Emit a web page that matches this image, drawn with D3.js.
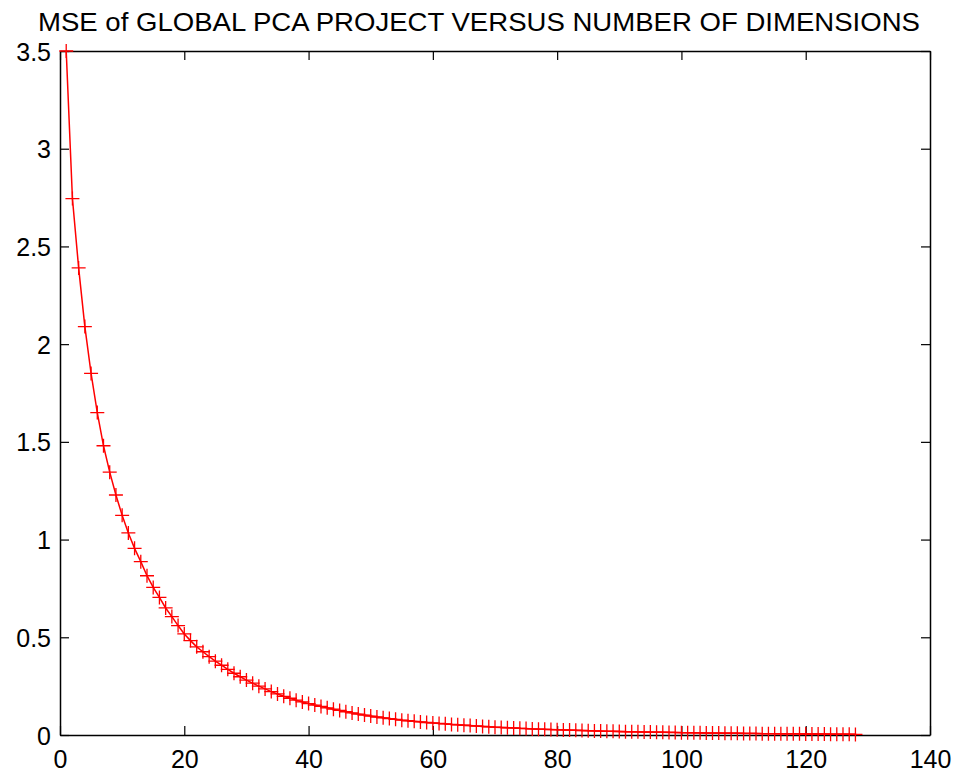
<!DOCTYPE html>
<html>
<head>
<meta charset="utf-8">
<script src="https://cdn.jsdelivr.net/npm/d3@7"></script>
<style>
  body { margin: 0; background: #fff; }
  text { font-family: 'Liberation Sans', Arial, sans-serif; fill: #000; }
</style>
</head>
<body>
<svg id="chart"></svg>
<script>
// values
const dims = d3.range(1, 129)
const mse = [
  3.50, 2.745, 2.39, 2.09, 1.85, 1.65, 1.48, 1.345, 1.228, 1.124,
  1.034, 0.955, 0.887, 0.815, 0.755, 0.704, 0.650, 0.606, 0.560, 0.517,
  0.483, 0.451, 0.426, 0.401, 0.378, 0.357, 0.336, 0.316, 0.298, 0.281,
  0.265, 0.250, 0.236, 0.222, 0.210, 0.198, 0.188, 0.178, 0.169, 0.161,
  0.153, 0.146, 0.139, 0.132, 0.126, 0.119, 0.113, 0.107, 0.102, 0.097,
  0.092, 0.088, 0.084, 0.080, 0.076, 0.073, 0.070, 0.067, 0.064, 0.062,
  0.059, 0.057, 0.054, 0.052, 0.050, 0.048, 0.046, 0.044, 0.042, 0.040,
  0.039, 0.037, 0.036, 0.034, 0.033, 0.031, 0.030, 0.029, 0.028, 0.027,
  0.026, 0.025, 0.024, 0.023, 0.022, 0.021, 0.020, 0.019, 0.019, 0.018,
  0.017, 0.016, 0.016, 0.015, 0.015, 0.014, 0.014, 0.013, 0.013, 0.012,
  0.012, 0.011, 0.011, 0.010, 0.010, 0.010, 0.009, 0.009, 0.009, 0.008,
  0.008, 0.008, 0.007, 0.007, 0.007, 0.006, 0.006, 0.006, 0.006, 0.005,
  0.005, 0.005, 0.005, 0.004, 0.004, 0.004, 0.004, 0.003
]
const xTicks = [0, 20, 40, 60, 80, 100, 120, 140]
const yTicks = [0, 0.5, 1, 1.5, 2, 2.5, 3, 3.5]
const title = 'MSE of GLOBAL PCA PROJECT VERSUS NUMBER OF DIMENSIONS'

const W = 956
const H = 782
const margin = { top: 51, left: 60, right: 26, bottom: 47 }
const width = W - margin.left - margin.right
const height = H - margin.top - margin.bottom

const svg = d3.select('#chart').attr('width', W).attr('height', H)
const g = svg.append('g')
  .attr('transform', 'translate(' + margin.left + ',' + margin.top + ')')

const xScale = d3.scaleLinear().domain([0, 140]).range([0, width])
const yScale = d3.scaleLinear().domain([0, 3.5]).range([height, 0])

const data = dims.map((d, i) => ({ x: d, y: mse[i] }))

/// axes (matlab style, ticks inside, box all round) ////
const tickLen = 9
const axisFont = '25px'

const xAxis = g.append('g')
  .attr('transform', 'translate(0,' + height + ')')
  .call(d3.axisBottom(xScale).tickValues(xTicks).tickSizeInner(-tickLen).tickSizeOuter(0).tickPadding(15))
const xTop = g.append('g')
  .call(d3.axisTop(xScale).tickValues(xTicks).tickSizeInner(-tickLen).tickSizeOuter(0).tickFormat(''))
const yAxis = g.append('g')
  .call(d3.axisLeft(yScale).tickValues(yTicks).tickSizeInner(-tickLen).tickSizeOuter(0).tickPadding(9).tickFormat(d3.format('')))
const yRight = g.append('g')
  .attr('transform', 'translate(' + width + ',0)')
  .call(d3.axisRight(yScale).tickValues(yTicks).tickSizeInner(-tickLen).tickSizeOuter(0).tickFormat(''))

;[xAxis, xTop, yAxis, yRight].forEach(a => {
  a.selectAll('.domain').attr('stroke', '#000').attr('stroke-width', 1.5)
  a.selectAll('.tick line').attr('stroke', '#000').attr('stroke-width', 1.2)
  a.selectAll('.tick text')
    .attr('font-size', axisFont)
    .attr('font-family', "'Liberation Sans', Arial, sans-serif")
    .attr('fill', '#000')
})
xAxis.selectAll('.tick text').attr('dy', '0.71em')
yAxis.selectAll('.tick text').attr('dy', '0.36em')

/// line + markers ////
const line = d3.line().x(d => xScale(d.x)).y(d => yScale(d.y))
g.append('path')
  .datum(data)
  .attr('d', line)
  .attr('fill', 'none')
  .attr('stroke', '#ff0000')
  .attr('stroke-width', 1.5)

const m = 7
g.append('g')
  .selectAll('path')
  .data(data)
  .enter()
  .append('path')
  .attr('d', d => {
    const cx = xScale(d.x)
    const cy = yScale(d.y)
    return `M${cx - m},${cy}H${cx + m}M${cx},${cy - m}V${cy + m}`
  })
  .attr('stroke', '#ff0000')
  .attr('stroke-width', 1.3)
  .attr('fill', 'none')

/// title ////
svg.append('text')
  .attr('x', 479)
  .attr('y', 31)
  .attr('text-anchor', 'middle')
  .attr('font-size', '26px')
  .attr('textLength', 882)
  .attr('lengthAdjust', 'spacingAndGlyphs')
  .text(title)
</script>
</body>
</html>
